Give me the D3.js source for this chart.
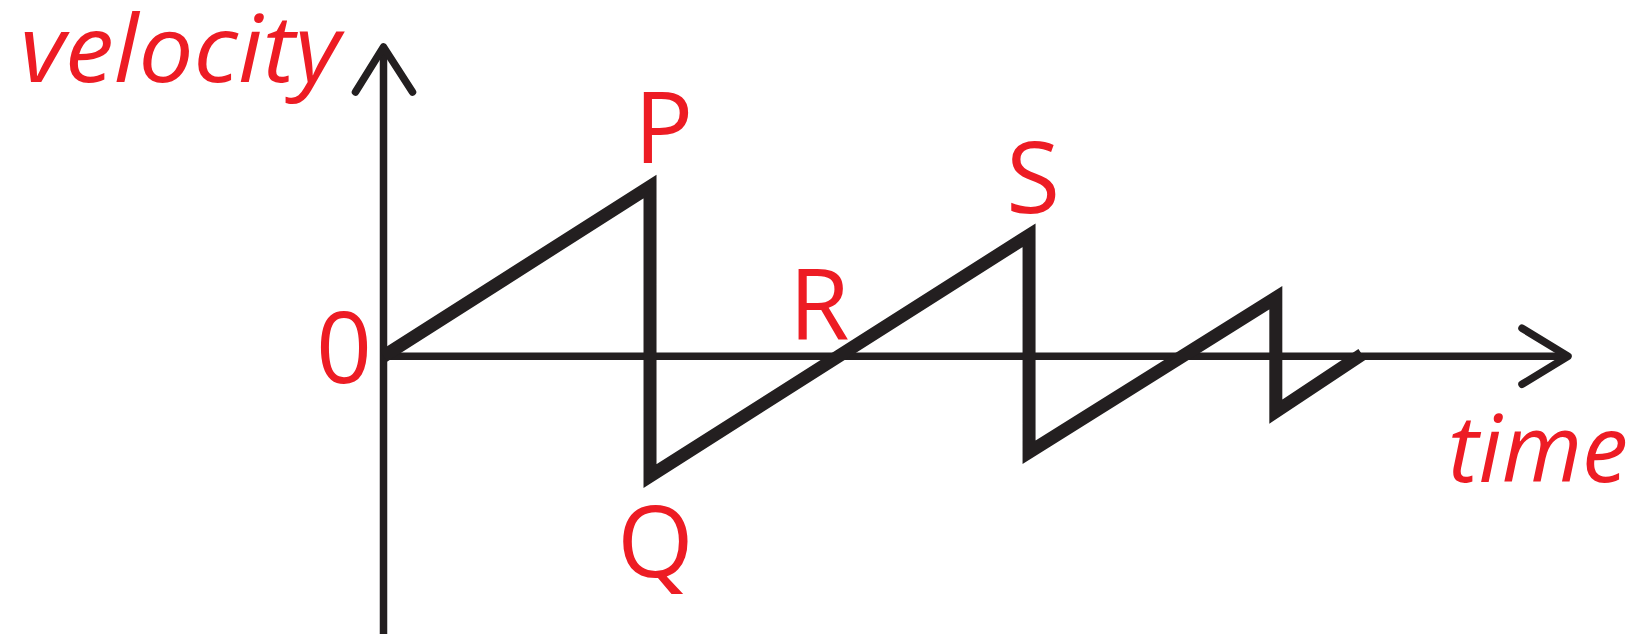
<!DOCTYPE html>
<html>
<head>
<meta charset="utf-8">
<script src="https://cdn.jsdelivr.net/npm/d3@7"></script>
<style>
body{margin:0;background:#fff;overflow:hidden}
svg{display:block}
text{font-family:"Open Sans","Noto Sans",sans-serif;fill:#ed1c24}
</style>
</head>
<body>
<svg id="chart" width="1645" height="634"></svg>
<script>
// velocity-time trace (time, velocity in arbitrary units)
var times = [0, 4.05, 4.05, 9.81, 9.81, 13.56, 13.56, 14.87]
var velocities = [0, 2.58, -1.82, 1.84, -1.46, 0.89, -0.84, 0.03]

// point labels, placed in the same data units
var labelText = ['0', 'P', 'Q', 'R', 'S']
var labelTime = [-0.6, 4.26, 4.13, 6.62, 9.87]
var labelVel = [-0.4, 2.94, -3.36, 0.25, 2.18]

var axisNames = ['velocity', 'time']

var ink = '#231f20', red = '#ed1c24'
var svg = d3.select('#chart')

var x = d3.scaleLinear().domain([0, 18]).range([383.5, 1568])
var y = d3.scaleLinear().domain([-4.22, 4.70]).range([634, 47])

var x0 = x(0), y0 = y(0), xEnd = x(18), yTop = y(4.70)

/*---- axes with open arrow heads ----*/
var ax = svg.append('g')
  .attr('fill', 'none')
  .attr('stroke', ink)
  .attr('stroke-width', 7.5)
  .attr('stroke-linecap', 'round')
  .attr('stroke-linejoin', 'round')

ax.append('line').attr('x1', x0).attr('y1', 640).attr('x2', x0).attr('y2', yTop)
  .attr('stroke-linecap', 'butt')
ax.append('line').attr('x1', x0).attr('y1', y0).attr('x2', xEnd).attr('y2', y0)
  .attr('stroke-linecap', 'butt')
ax.append('path').attr('d', d3.line()([[x0 - 28, yTop + 45], [x0, yTop], [x0 + 29, yTop + 45]]))
ax.append('path').attr('d', d3.line()([[xEnd - 46, y0 - 28], [xEnd, y0], [xEnd - 46, y0 + 28]]))

/*---- the velocity trace ----*/
var pts = times.map(function(t, i){ return [t, velocities[i]] })
svg.append('path')
  .datum(pts)
  .attr('fill', 'none')
  .attr('stroke', ink)
  .attr('stroke-width', 13)
  .attr('stroke-linejoin', 'miter')
  .attr('stroke-miterlimit', 10)
  .attr('d', d3.line().x(function(d){ return x(d[0]) }).y(function(d){ return y(d[1]) }))

/*---- labels ----*/
svg.selectAll('text.pt')
  .data(labelText)
  .enter().append('text')
  .attr('class', 'pt')
  .attr('x', function(d, i){ return x(labelTime[i]) })
  .attr('y', function(d, i){ return y(labelVel[i]) })
  .attr('text-anchor', 'middle')
  .attr('font-size', 98)
  .text(function(d){ return d })

svg.append('text')
  .attr('x', 20).attr('y', yTop + 35)
  .attr('font-size', 94).attr('font-style', 'italic')
  .attr('textLength', 320).attr('lengthAdjust', 'spacingAndGlyphs')
  .text(axisNames[0])

svg.append('text')
  .attr('x', xEnd - 120).attr('y', y0 + 126)
  .attr('font-size', 94).attr('font-style', 'italic')
  .attr('textLength', 180).attr('lengthAdjust', 'spacingAndGlyphs')
  .text(axisNames[1])
</script>
</body>
</html>
